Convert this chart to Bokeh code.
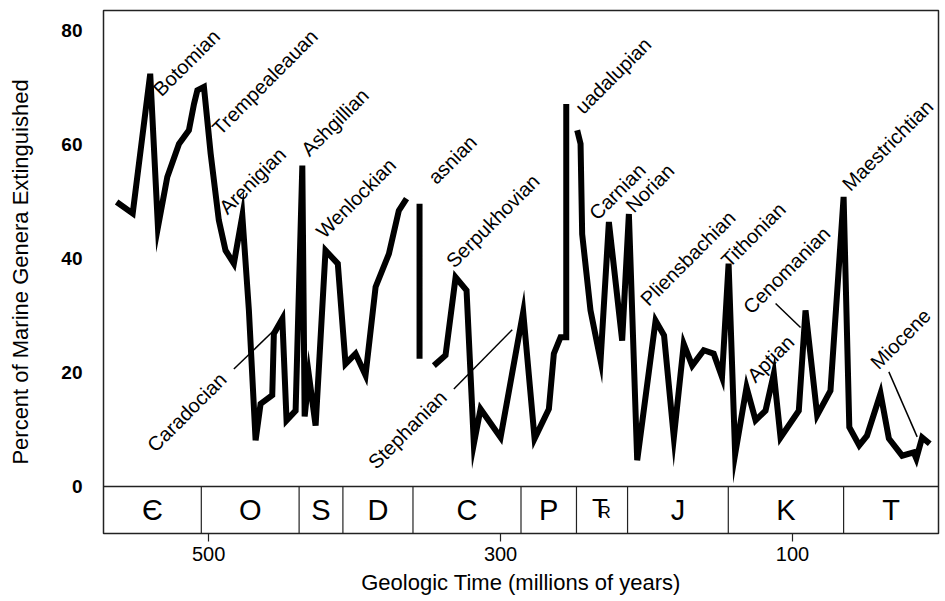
from bokeh.plotting import figure
from bokeh.models import Range1d, FixedTicker, Span, ColumnDataSource
from bokeh.core.properties import value
from bokeh.embed import file_html
from bokeh.resources import INLINE

nan = float("nan")

# ---- data (millions of years ago, percent of marine genera extinguished); NaN = gap
ages = [563, 552, 540, 534.7, 528.3, 520.3, 513.5, 510, 507.7, 503.2, 498.6, 493, 488.4, 482.7,
        476.9, 472.4, 467.8, 464.4, 456.4, 455.3, 449.5, 446.6, 440.4, 435.8, 434.2, 431.3,
        426.7, 419.9, 411.5, 406.2, 399.3, 392.5, 385.6, 376.5, 369.7, 364.4,
        nan,
        355.5, 355.5,
        nan,
        345.7, 337.7, 330.8, 323.3, 318.3, 313.7, 300, 284.5, 276.7, 266.9, 263.5, 258.9, 255, 255,
        nan,
        247.5, 245.2, 244.1, 238.4, 231.5, 225.8, 216.7, 212.1, 206.4, 193.8, 188, 181.3, 174.5,
        168.7, 160.8, 154, 148.3, 143.8, 139.3, 131.5, 125.3, 118.5, 112.8, 108.2, 95.7, 91.1,
        83.1, 74, 65, 61.1, 54.3, 49, 39.7, 34, 24.9, 17, 15.2, 11.2, 6]
pct = [49.9, 47.9, 72.4, 45.5, 54.3, 60.1, 62.5, 67.1, 69.5, 70.1, 58.4, 46.7, 41.4, 39.1,
       47.5, 30.9, 8.1, 14.5, 16.0, 26.8, 29.4, 11.6, 13.3, 56.3, 12.3, 19.5,
       10.7, 41.4, 39.1, 21.5, 23.3, 19.5, 35.0, 40.8, 48.4, 50.5,
       nan,
       49.6, 22.4,
       nan,
       21.2, 23.0, 36.7, 34.4, 7.5, 13.6, 8.6, 30.6, 8.4, 13.6, 23.3, 26.2, 26.2, 67.1,
       nan,
       62.5, 60.1, 44.3, 30.9, 22.1, 46.4, 25.6, 47.8, 4.6, 29.1, 26.5, 8.6, 25.0,
       21.2, 23.9, 23.3, 19.2, 39.1, 5.7, 17.4, 11.6, 13.3, 19.8, 8.6, 13.3, 30.9,
       12.5, 16.8, 50.8, 10.4, 7.2, 8.9, 16.3, 8.4, 5.4, 6.0, 4.9, 8.6, 7.5]

stage_names = ["Botomian", "Trempealeauan", "Arenigian", "Caradocian", "Ashgillian",
               "Wenlockian", "asnian", "Serpukhovian", "Stephanian", "uadalupian",
               "Carnian", "Norian", "Pliensbachian", "Tithonian", "Aptian",
               "Cenomanian", "Maestrichtian", "Miocene"]
stage_age = [535.6, 495.2, 490.4, 539.7, 434.2, 424, 347.3, 335, 388.4, 246.6,
             237, 212, 201.8, 146.6, 128.8, 131.5, 63.7, 44.3]
stage_pct = [69.1, 62.3, 48.4, 6.7, 58.6, 44.2, 53.7, 39.0, 3.7, 66.0,
             47.4, 48.7, 32.3, 39.1, 18.9, 30.9, 52.5, 21.2]

# leader lines (Caradocian, Stephanian, Cenomanian, Miocene)
lead_x0 = [482.7, 332, 111.6, 34]
lead_y0 = [20.6, 17.1, 32.1, 20.1]
lead_x1 = [456.4, 292, 94.5, 14.6]
lead_y1 = [27.1, 27.5, 27.9, 8.7]

period_labels = ["Є", "O", "S", "D", "C", "P", "TR", "J", "K", "T"]
period_start = [572, 505, 438, 408, 360, 286, 248, 213, 144, 65]
period_end = [505, 438, 408, 360, 286, 248, 213, 144, 65, 0]

x_ticks = [500, 300, 100]
y_ticks = [0, 20, 40, 60, 80]

# ---- figure
X_START, X_END = 572, 0
Y_BOTTOM, Y_TOP = -8.25, 83.5
FONT = "Liberation Sans"

p = figure(width=945, height=601, output_backend="svg", toolbar_location=None,
           x_range=Range1d(X_START, X_END), y_range=Range1d(Y_BOTTOM, Y_TOP),
           min_border_left=103, min_border_right=7, min_border_top=10, min_border_bottom=68)
p.grid.visible = False
p.background_fill_color = "white"
p.border_fill_color = "white"
p.outline_line_color = "#222222"
p.outline_line_width = 1.5

# axes
xa = p.xaxis[0]
xa.ticker = FixedTicker(ticks=x_ticks)
xa.axis_line_color = None
xa.major_tick_out = 8
xa.major_tick_in = 0
xa.major_tick_line_color = "#222222"
xa.major_tick_line_width = 1.2
xa.minor_tick_line_color = None
xa.major_label_text_font = FONT
xa.major_label_text_font_size = "20px"
xa.major_label_text_color = "black"
xa.major_label_standoff = 5
xa.axis_label = "Geologic Time (millions of years)"
xa.axis_label_text_font = FONT
xa.axis_label_text_font_size = "22px"
xa.axis_label_text_font_style = "normal"
xa.axis_label_text_color = "black"
xa.axis_label_standoff = 6

ya = p.yaxis[0]
ya.ticker = FixedTicker(ticks=y_ticks)
ya.axis_line_color = None
ya.major_tick_line_color = None
ya.minor_tick_line_color = None
ya.major_label_text_font = FONT
ya.major_label_text_font_style = "bold"
ya.major_label_text_font_size = "19px"
ya.major_label_text_color = "black"
ya.major_label_standoff = 15
ya.axis_label = "Percent of Marine Genera Extinguished"
ya.axis_label_text_font = FONT
ya.axis_label_text_font_size = "22px"
ya.axis_label_text_font_style = "normal"
ya.axis_label_text_color = "black"
ya.axis_label_standoff = 25

# period band
p.add_layout(Span(location=0, dimension="width", line_color="#222222", line_width=1.5))
p.segment(x0=period_start[1:], y0=[0] * (len(period_start) - 1),
          x1=period_start[1:], y1=[Y_BOTTOM] * (len(period_start) - 1),
          line_color="#222222", line_width=1.2)
band_mid = Y_BOTTOM / 2
centers = [(max(min(a, X_START), X_END) + b) / 2 for a, b in zip(period_start, period_end)]
simple = [(c, l) for c, l in zip(centers, period_labels) if l != "TR"]
p.text(x=[c for c, _ in simple], y=[band_mid] * len(simple), text=[l for _, l in simple],
       text_font=value(FONT), text_font_size=value("29px"), text_align="center",
       text_baseline="middle", text_color="black")
tr = [c for c, l in zip(centers, period_labels) if l == "TR"]
p.text(x=tr, y=[band_mid] * len(tr), text=["T"] * len(tr), text_font=value(FONT),
       text_font_size=value("26px"), text_align="center", text_baseline="middle",
       text_color="black", x_offset=-2, y_offset=-2)
p.text(x=tr, y=[band_mid] * len(tr), text=["R"] * len(tr), text_font=value(FONT),
       text_font_size=value("17px"), text_align="left", text_baseline="middle",
       text_color="black", x_offset=-3.5, y_offset=3)

# curve
p.line(x=ages, y=pct, line_color="black", line_width=6, line_join="miter")

# leader lines and stage names
p.segment(x0=lead_x0, y0=lead_y0, x1=lead_x1, y1=lead_y1, line_color="black", line_width=1.5)
src = ColumnDataSource(dict(x=stage_age, y=stage_pct, t=stage_names))
p.text(x="x", y="y", text="t", source=src, angle=45, angle_units="deg",
       text_font=value(FONT), text_font_size=value("20px"), text_align="left",
       text_baseline="alphabetic", text_color="black")

open("out.html", "w").write(file_html(p, INLINE))
